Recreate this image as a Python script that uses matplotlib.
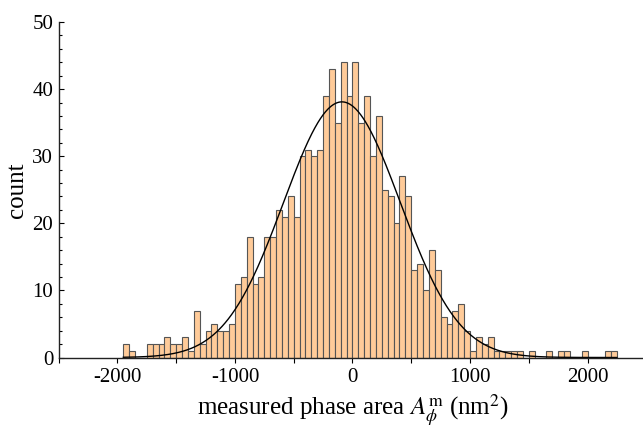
import numpy as np
import matplotlib
matplotlib.use("Agg")
import matplotlib.pyplot as plt
from matplotlib.ticker import MultipleLocator

# histogram of measured phase areas (bins of 50 nm^2 starting at -1950)
bin_start = -1950
bin_width = 50
counts = [2, 1, 0, 0, 2, 2, 2, 3, 2, 2, 3, 1, 7, 2, 4, 5, 4, 4, 5, 11,
          12, 18, 11, 12, 18, 18, 22, 21, 24, 21, 30, 31, 30, 31, 39, 43, 35, 44, 39, 44,
          35, 39, 30, 36, 25, 24, 20, 27, 24, 13, 14, 10, 16, 13, 6, 5, 7, 8, 4, 1,
          3, 2, 3, 1, 1, 1, 1, 1, 0, 1, 0, 0, 1, 0, 1, 1, 0, 0, 1, 0,
          0, 0, 1, 1]

# gaussian fit parameters
fit_mu = -90
fit_sigma = 497
fit_amp = 38.1

plt.rcParams['font.family'] = ['Liberation Serif', 'DejaVu Serif']
plt.rcParams['mathtext.fontset'] = 'stix'

edges = bin_start + bin_width * np.arange(len(counts) + 1)

fig = plt.figure(figsize=(6.43, 4.30), dpi=100)
ax = fig.add_axes([0.0913, 0.1686, 0.9138, 0.7802])

ax.bar(edges[:-1], counts, width=bin_width, align='edge',
       color='#FFCB99', edgecolor='#555555', linewidth=0.8, zorder=2)

xs = np.linspace(edges[0], edges[-1], 800)
ax.plot(xs, fit_amp * np.exp(-(xs - fit_mu) ** 2 / (2 * fit_sigma ** 2)),
        color='black', linewidth=1.0, zorder=3)

ax.set_xlim(-2500, 2500)
ax.set_ylim(0, 50)

for s in ['top', 'right']:
    ax.spines[s].set_visible(False)
for s in ['left', 'bottom']:
    ax.spines[s].set_linewidth(1.0)
    ax.spines[s].set_color('#222222')
    ax.spines[s].set_zorder(4)

ax.xaxis.set_major_locator(MultipleLocator(1000))
ax.xaxis.set_minor_locator(MultipleLocator(500))
ax.yaxis.set_major_locator(MultipleLocator(10))
ax.yaxis.set_minor_locator(MultipleLocator(2))

ax.tick_params(axis='x', which='both', direction='out', length=3.5, width=0.8,
               labelsize=15, pad=4)
ax.tick_params(axis='y', which='major', direction='in', length=3.5, width=0.8,
               labelsize=15, pad=4)
ax.tick_params(axis='y', which='minor', direction='in', length=2, width=0.8)

ax.set_xticks([-2000, -1000, 0, 1000, 2000])
ax.set_xticklabels(['-2000', '-1000', '0', '1000', '2000'])

ax.set_xlabel(r'measured phase area $A_{\phi}^{\mathrm{m}}$ (nm$^{2}$)', fontsize=18, labelpad=4)
ax.set_ylabel('count', fontsize=18, labelpad=3)

fig.savefig('out.png', dpi=100)
